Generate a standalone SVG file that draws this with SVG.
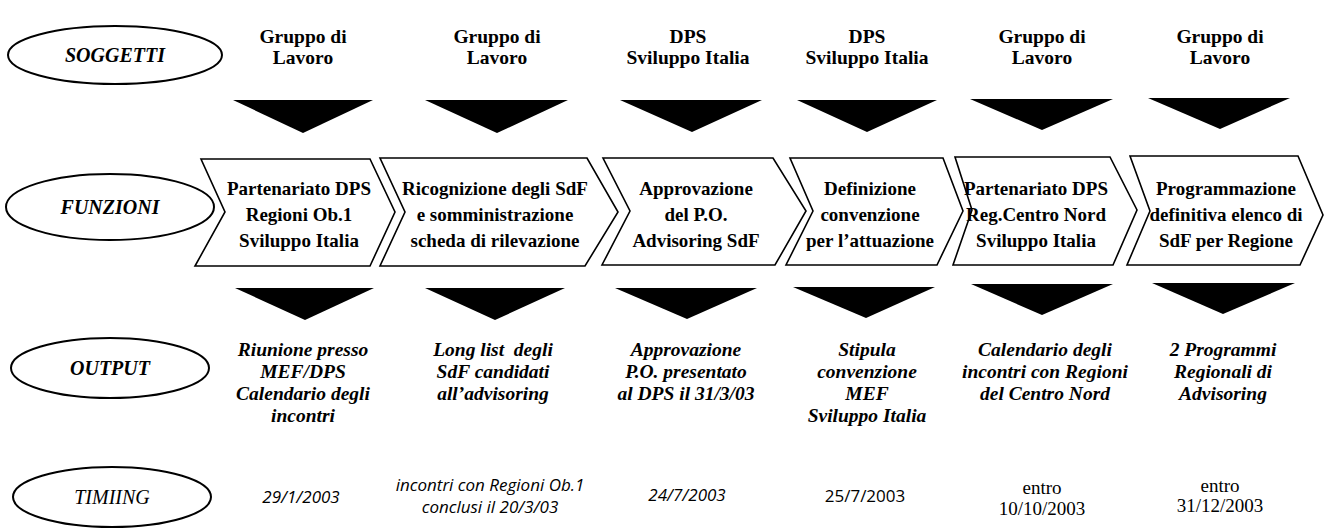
<svg xmlns="http://www.w3.org/2000/svg" width="1329" height="532" viewBox="0 0 1329 532">
<style>
.bg{fill:#fff}
.ell{fill:#fff;stroke:#000;stroke-width:2}
.chev{fill:#fff;stroke:#000;stroke-width:1.6;stroke-linejoin:miter}
.tri{fill:#000}
text{font-family:"Liberation Serif","Times New Roman",serif;fill:#000;text-anchor:middle}
.lab{font-size:20px;font-weight:bold;font-style:italic}
.labi{font-size:20px;font-style:italic}
.hd{font-size:19.5px;font-weight:bold}
.fn{font-size:19px;font-weight:bold}
.out{font-size:19.5px;font-weight:bold;font-style:italic}
.tms{font-family:"Open Sans","DejaVu Sans",sans-serif;font-size:17px;font-style:italic}
.tmu{font-family:"Open Sans","DejaVu Sans",sans-serif;font-size:17px}
.tmr{font-size:19px}
</style>
<rect class="bg" x="0" y="0" width="1329" height="532"/>

<g id="soggetti">
<ellipse class="ell" cx="115" cy="55" rx="107" ry="29"/>
<text class="lab" x="115" y="62">SOGGETTI</text>
</g>
<g id="funzioni">
<ellipse class="ell" cx="110" cy="207" rx="104" ry="33"/>
<text class="lab" x="110" y="214">FUNZIONI</text>
</g>
<g id="output">
<ellipse class="ell" cx="110" cy="368" rx="99" ry="30"/>
<text class="lab" x="110" y="375">OUTPUT</text>
</g>
<g id="timing">
<ellipse class="ell" cx="112" cy="497" rx="99" ry="30"/>
<text class="labi" x="112" y="504">TIMIING</text>
</g>

<g id="soggetto-1"><text class="hd" x="303" y="43">Gruppo di</text><text class="hd" x="303" y="64">Lavoro</text></g>
<g id="soggetto-2"><text class="hd" x="497" y="43">Gruppo di</text><text class="hd" x="497" y="64">Lavoro</text></g>
<g id="soggetto-3"><text class="hd" x="688" y="43">DPS</text><text class="hd" x="688" y="64">Sviluppo Italia</text></g>
<g id="soggetto-4"><text class="hd" x="867" y="43">DPS</text><text class="hd" x="867" y="64">Sviluppo Italia</text></g>
<g id="soggetto-5"><text class="hd" x="1042" y="43">Gruppo di</text><text class="hd" x="1042" y="64">Lavoro</text></g>
<g id="soggetto-6"><text class="hd" x="1220" y="43">Gruppo di</text><text class="hd" x="1220" y="64">Lavoro</text></g>

<g id="funzione-1">
<polygon class="chev" points="201,159 370,159 395,212 370,266 195,266 225,212"/>
<text class="fn" x="299" y="195">Partenariato DPS</text>
<text class="fn" x="299" y="221">Regioni Ob.1</text>
<text class="fn" x="299" y="247">Sviluppo Italia</text>
</g>
<g id="funzione-2">
<polygon class="chev" points="380,158 587,158 618,212 585,266 380,266 405,212"/>
<text class="fn" x="495" y="195">Ricognizione degli SdF</text>
<text class="fn" x="495" y="221">e somministrazione</text>
<text class="fn" x="495" y="247">scheda di rilevazione</text>
</g>
<g id="funzione-3">
<polygon class="chev" points="603,158 773,158 806,211 775,265 602,265 630,211"/>
<text class="fn" x="696" y="195">Approvazione</text>
<text class="fn" x="696" y="221">del P.O.</text>
<text class="fn" x="696" y="247">Advisoring SdF</text>
</g>
<g id="funzione-4">
<polygon class="chev" points="790,158 943,158 963,211 937,265 786,265 813,211"/>
<text class="fn" x="870" y="195">Definizione</text>
<text class="fn" x="870" y="221">convenzione</text>
<text class="fn" x="870" y="247">per l’attuazione</text>
</g>
<g id="funzione-5">
<polygon class="chev" points="955,157 1110,157 1137,210 1113,265 953,265 972,210"/>
<text class="fn" x="1036" y="195">Partenariato DPS</text>
<text class="fn" x="1036" y="221">Reg.Centro Nord</text>
<text class="fn" x="1036" y="247">Sviluppo Italia</text>
</g>
<g id="funzione-6">
<polygon class="chev" points="1130,156 1298,156 1323,215 1300,265 1127,265 1150,211"/>
<text class="fn" x="1226" y="195">Programmazione</text>
<text class="fn" x="1226" y="221">definitiva elenco di</text>
<text class="fn" x="1226" y="247">SdF per Regione</text>
</g>

<g id="output-1">
<text class="out" x="303" y="356">Riunione presso</text>
<text class="out" x="303" y="378">MEF/DPS</text>
<text class="out" x="303" y="400">Calendario degli</text>
<text class="out" x="303" y="422">incontri</text>
</g>
<g id="output-2">
<text class="out" x="493" y="356" xml:space="preserve">Long list  degli</text>
<text class="out" x="493" y="378">SdF candidati</text>
<text class="out" x="493" y="400">all’advisoring</text>
</g>
<g id="output-3">
<text class="out" x="686" y="356">Approvazione</text>
<text class="out" x="686" y="378">P.O. presentato</text>
<text class="out" x="686" y="400">al DPS il 31/3/03</text>
</g>
<g id="output-4">
<text class="out" x="867" y="356">Stipula</text>
<text class="out" x="867" y="378">convenzione</text>
<text class="out" x="867" y="400">MEF</text>
<text class="out" x="867" y="422">Sviluppo Italia</text>
</g>
<g id="output-5">
<text class="out" x="1045" y="356">Calendario degli</text>
<text class="out" x="1045" y="378">incontri con Regioni</text>
<text class="out" x="1045" y="400">del Centro Nord</text>
</g>
<g id="output-6">
<text class="out" x="1223" y="356">2 Programmi</text>
<text class="out" x="1223" y="378">Regionali di</text>
<text class="out" x="1223" y="400">Advisoring</text>
</g>

<g id="timing-1"><text class="tms" x="301" y="503">29/1/2003</text></g>
<g id="timing-2">
<text class="tms" x="490" y="491">incontri con Regioni Ob.1</text>
<text class="tms" x="490" y="513">conclusi il 20/3/03</text>
</g>
<g id="timing-3"><text class="tms" x="687" y="501">24/7/2003</text></g>
<g id="timing-4"><text class="tmu" x="865" y="502">25/7/2003</text></g>
<g id="timing-5">
<text class="tmr" x="1042" y="494">entro</text>
<text class="tmr" x="1042" y="515">10/10/2003</text>
</g>
<g id="timing-6">
<text class="tmr" x="1220" y="492">entro</text>
<text class="tmr" x="1220" y="512">31/12/2003</text>
</g>

<g id="connectors">
<polygon class="tri" points="233,100 373,100 303,133"/>
<polygon class="tri" points="425,100 568,100 497,133"/>
<polygon class="tri" points="620,100 762,100 692,132"/>
<polygon class="tri" points="797,100 937,100 867,132"/>
<polygon class="tri" points="970,99 1113,99 1042,130"/>
<polygon class="tri" points="1148,98 1290,98 1220,129"/>
<polygon class="tri" points="235,288 374,288 305,320"/>
<polygon class="tri" points="425,288 565,288 495,320"/>
<polygon class="tri" points="615,288 757,288 687,319"/>
<polygon class="tri" points="793,287 935,287 866,318"/>
<polygon class="tri" points="971,284 1113,284 1042,315"/>
<polygon class="tri" points="1152,283 1295,283 1223,314"/>
</g>
</svg>
